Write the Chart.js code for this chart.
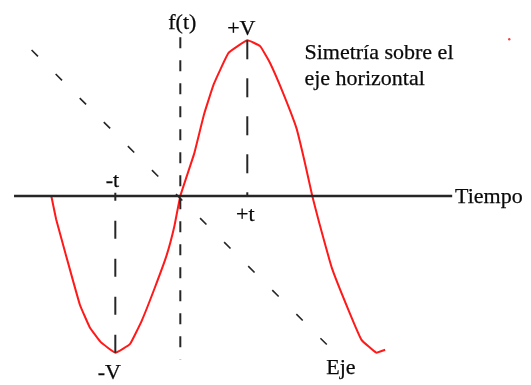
<!DOCTYPE html>
<html><head><meta charset="utf-8">
<script src="https://cdn.jsdelivr.net/npm/chart.js@4/dist/chart.umd.min.js"></script>
<style>html,body{margin:0;padding:0;background:#fff;overflow:hidden}#wrap{width:531px;height:385px;position:relative}</style>
</head><body><div id="wrap"><canvas id="c" width="531" height="385"></canvas></div>
<script>
// Red waveform f(t), in units of t (x) and V (y)
const curveT = [-1.955,-1.881,-1.731,-1.522,-1.373,-1.209,-0.985,-0.761,-0.582,-0.388,-0.209,-0.090,0,0.209,0.358,0.507,0.731,1.015,1.209,1.358,1.552,1.761,1.881,2.0,2.104,2.299,2.552,2.746,2.970,3.104];
const curveV = [0,-0.152,-0.386,-0.703,-0.848,-0.943,-1.013,-0.956,-0.804,-0.595,-0.386,-0.196,0,0.272,0.525,0.722,0.924,1.006,0.968,0.861,0.671,0.437,0.228,0,-0.171,-0.468,-0.741,-0.930,-1.013,-0.994];
// Horizontal time axis extent
const timeAxisT = [-2.52, 4.12];
// Vertical f(t) axis extent
const fAxisV = [1.025, -1.057];
// Peak (+t,+V) and trough (-t,-V)
const peakT = 1.015, peakV = 1.006;
const troughT = -0.985, troughV = -1.013;
// Diagonal "Eje" line end points
const ejeT = [-2.254, 2.254];
const ejeV = [0.943, -0.975];
// Stray red dot
const dotT = [4.985], dotV = [1.013];
// Text labels
const labelTexts = ["f(t)", "+V", "-t", "+t", "-V", "Eje", "Tiempo", "Simetría sobre el", "eje horizontal"];
const labelT = [0.03, 0.925, -1.03, 0.985, -1.075, 2.433, 4.164, 1.881, 1.881];
const labelV = [1.082, 1.038, 0.057, -0.165, -1.184, -1.152, -0.044, 0.886, 0.715];
const labelAlign = ["center","center","center","center","center","center","left","left","left"];

const pts = (xs, ys) => xs.map((x, i) => ({x, y: ys[i]}));
const ink = '#262626';

const labelPlugin = {
  id: 'labels',
  afterDatasetsDraw(chart) {
    const {ctx, scales: {x, y}} = chart;
    ctx.save();
    ctx.fillStyle = '#0a0a0a';
    ctx.strokeStyle = '#0a0a0a';
    ctx.lineWidth = 0.25;
    ctx.font = '22px "Liberation Serif"';
    ctx.textBaseline = 'alphabetic';
    labelTexts.forEach((t, i) => {
      ctx.textAlign = labelAlign[i];
      const px = x.getPixelForValue(labelT[i]), py = y.getPixelForValue(labelV[i]);
      ctx.fillText(t, px, py);
      ctx.strokeText(t, px, py);
    });
    ctx.restore();
  }
};

new Chart(document.getElementById('c'), {
  type: 'scatter',
  data: {
    datasets: [
      { data: pts(curveT, curveV), showLine: true, borderColor: 'rgb(255,25,25)', borderWidth: 2, pointRadius: 0, tension: 0.1, order: 5 },
      { data: pts(timeAxisT, [0, 0]), showLine: true, borderColor: ink, borderWidth: 2.5, pointRadius: 0, order: 1 },
      { data: pts([0, 0], fAxisV), showLine: true, borderColor: ink, borderWidth: 2, borderDash: [11, 12], pointRadius: 0, order: 1 },
      { data: pts([peakT, peakT], [peakV, 0]), showLine: true, borderColor: ink, borderWidth: 2, borderDash: [19, 19], pointRadius: 0, order: 1 },
      { data: pts([troughT, troughT], [troughV, 0.02]), showLine: true, borderColor: ink, borderWidth: 2, borderDash: [18, 20], pointRadius: 0, order: 1 },
      { data: pts(ejeT, ejeV), showLine: true, borderColor: ink, borderWidth: 1.6, borderDash: [9, 25], pointRadius: 0, order: 1 },
      { data: pts(dotT, dotV), showLine: false, backgroundColor: 'rgb(255,60,60)', borderWidth: 0, pointRadius: 1.2, order: 1 }
    ]
  },
  options: {
    responsive: false,
    animation: false,
    layout: { padding: 0 },
    plugins: { legend: { display: false }, tooltip: { enabled: false } },
    scales: {
      x: { type: 'linear', min: -2.672, max: 5.254, display: false },
      y: { type: 'linear', min: -1.196, max: 1.2405, display: false }
    }
  },
  plugins: [labelPlugin]
});
</script>
</body></html>
